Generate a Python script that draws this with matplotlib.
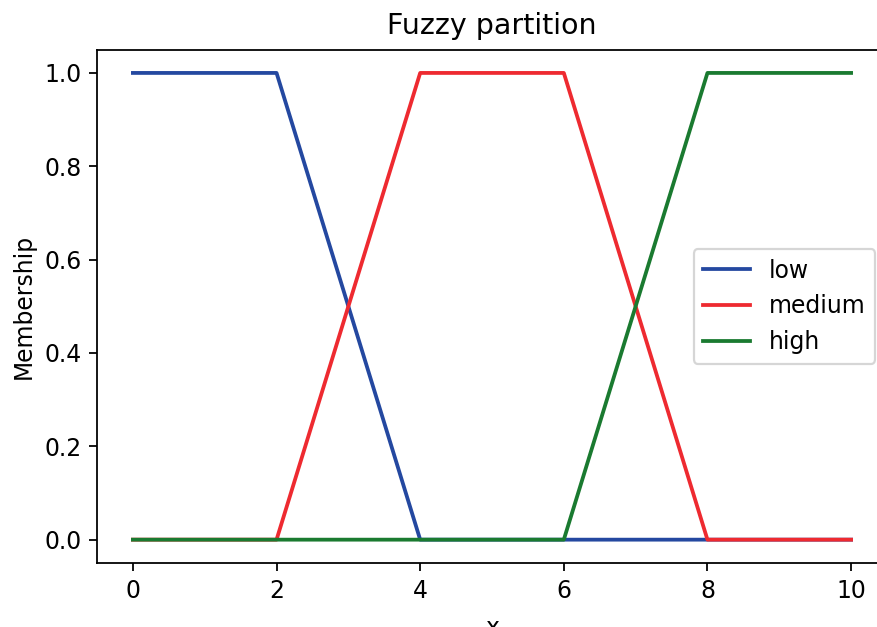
import matplotlib
matplotlib.use("Agg")
import matplotlib.pyplot as plt

x_low = [0, 2, 4, 10]
y_low = [1, 1, 0, 0]
x_med = [0, 2, 4, 6, 8, 10]
y_med = [0, 0, 1, 1, 0, 0]
x_high = [0, 6, 8, 10]
y_high = [0, 0, 1, 1]

DPI = 160
plt.rcParams.update({
    "font.size": 10.6,
    "axes.titlesize": 12.8,
    "axes.labelsize": 10.6,
    "xtick.labelsize": 10.6,
    "ytick.labelsize": 10.6,
    "legend.fontsize": 10.6,
    "lines.linewidth": 1.7,
})
fig = plt.figure(figsize=(877 / DPI, 627 / DPI), dpi=DPI)
ax = fig.add_axes([97 / 877, 64 / 627, 790 / 877, 513.4 / 627])

ax.plot(x_low, y_low, color="#2448a0", label="low")
ax.plot(x_med, y_med, color="#ee2a30", label="medium")
ax.plot(x_high, y_high, color="#1a7a30", label="high")

ax.set_xlim(-0.5, 10.5)
ax.set_ylim(-0.05, 1.05)
ax.set_xticks([0, 2, 4, 6, 8, 10])
ax.set_yticks([0.0, 0.2, 0.4, 0.6, 0.8, 1.0])
ax.set_title("Fuzzy partition", pad=7)
ax.set_xlabel("x", labelpad=6)
ax.set_ylabel("Membership")
ax.legend(loc="center right")

fig.savefig("out.png", dpi=DPI)
